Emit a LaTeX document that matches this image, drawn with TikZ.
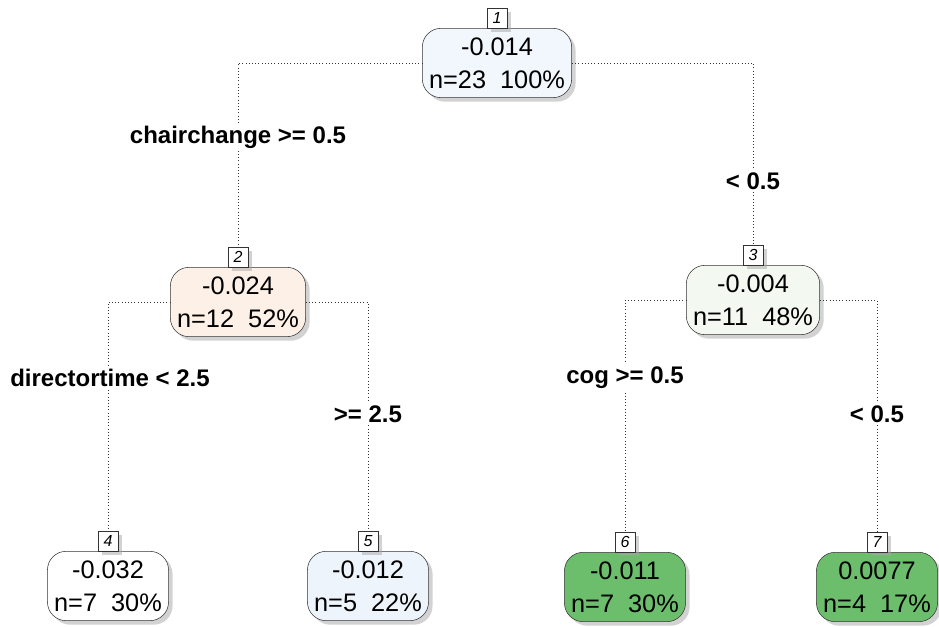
\documentclass[tikz,border=0pt]{standalone}
\usepackage{fontspec}
\setmainfont{Liberation Sans}
\usepackage{xcolor}
\usepackage{tikz}
\usetikzlibrary{shadows,positioning}
\definecolor{leafgreen}{RGB}{108,190,108}
\definecolor{paleblue}{RGB}{242,247,253}
\definecolor{paleorange}{RGB}{253,240,230}
\definecolor{palegreen}{RGB}{243,248,240}
\definecolor{lightblue}{RGB}{238,244,252}
\tikzstyle{treenode} = [rectangle, rounded corners=14pt, draw=black!80, align=center, inner xsep=5pt, minimum height=52pt, font=\fontsize{19}{25}\selectfont, drop shadow={shadow xshift=3pt, shadow yshift=-3pt, fill=black!35}]
\tikzstyle{numbox} = [rectangle, draw=black!80, fill=white, inner sep=1.5pt, minimum width=15pt, minimum height=15pt, font=\fontsize{12}{13}\selectfont\itshape, drop shadow={shadow xshift=3pt, shadow yshift=-3pt, fill=black!35}]
\tikzstyle{split} = [fill=white, inner sep=2pt, font=\fontsize{18}{22}\selectfont\bfseries]
\tikzstyle{line} = [dotted, black!80]

\begin{document}
\begin{tikzpicture}[x=0.75pt, y=-0.75pt]
    \useasboundingbox[fill=white] (0,0) rectangle (939,627);

    % Nodes
    \node (n1) [treenode, fill=paleblue] at (497,63) {-0.014\\n=23\ \ 100\%};
    \node (n2) [treenode, fill=paleorange] at (238,302) {-0.024\\n=12\ \ 52\%};
    \node (n3) [treenode, fill=palegreen] at (753,300) {-0.004\\n=11\ \ 48\%};
    \node (n4) [treenode, fill=white] at (108,586) {-0.032\\n=7\ \ 30\%};
    \node (n5) [treenode, fill=lightblue] at (368,586) {-0.012\\n=5\ \ 22\%};
    \node (n6) [treenode, fill=leafgreen] at (625,587) {-0.011\\n=7\ \ 30\%};
    \node (n7) [treenode, fill=leafgreen] at (877,587) {0.0077\\n=4\ \ 17\%};

    % Numbers
    \node (b1) [numbox, above=0pt of n1] {1};
    \node (b2) [numbox, above=0pt of n2] {2};
    \node (b3) [numbox, above=0pt of n3] {3};
    \node (b4) [numbox, above=0pt of n4] {4};
    \node (b5) [numbox, above=0pt of n5] {5};
    \node (b6) [numbox, above=0pt of n6] {6};
    \node (b7) [numbox, above=0pt of n7] {7};

    % Lines
    \draw[line] (n1.west) -| (b2.north);
    \draw[line] (n1.east) -| (b3.north);
    \draw[line] (n2.west) -| (b4.north);
    \draw[line] (n2.east) -| (b5.north);
    \draw[line] (n3.west) -| (b6.north);
    \draw[line] (n3.east) -| (b7.north);

    % Splits
    \node (s1) [split] at (238,137) {chairchange >= 0.5};
    \node (s1r) [split] at (753,181) {< 0.5};
    \node (s2) [split] at (110,378) {directortime < 2.5};
    \node (s2r) [split] at (368,414) {>= 2.5};
    \node (s3) [split] at (625,378) {cog >= 0.5};
    \node (s3r) [split] at (877,414) {< 0.5};

\end{tikzpicture}
\end{document}
